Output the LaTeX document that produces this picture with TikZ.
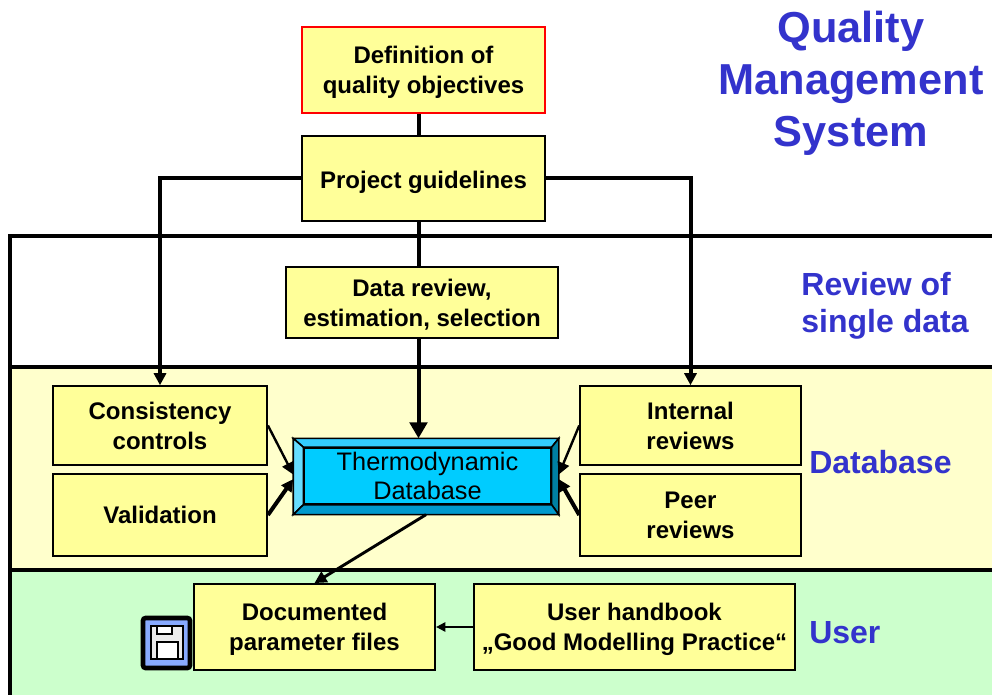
\documentclass[tikz,border=0pt]{standalone}
\usepackage{fontspec}
\setmainfont{Liberation Sans}
\usetikzlibrary{arrows.meta}
\definecolor{boxyellow}{HTML}{FFFF99}
\definecolor{bandyellow}{HTML}{FFFFCC}
\definecolor{bandgreen}{HTML}{CCFFCC}
\definecolor{titleblue}{HTML}{3333CC}
\definecolor{dbblue}{HTML}{00CCFF}
\definecolor{dbtop}{HTML}{33CCFF}
\definecolor{dbleft}{HTML}{66DDFF}
\definecolor{dbright}{HTML}{007FA3}
\definecolor{dbbottom}{HTML}{0099CC}
\definecolor{diskblue}{HTML}{88AAFF}
\newcommand{\lowtext}[2]{\begin{tabular}{@{}c@{}}\rule{0pt}{#1}#2\end{tabular}}
\tikzset{
    box/.style={draw=black, line width=1.4pt, fill=boxyellow, align=center, inner sep=0pt,
        font=\fontsize{18}{22.5}\selectfont\bfseries},
    heading/.style={text=titleblue, font=\fontsize{24}{28}\selectfont\bfseries, inner sep=0pt, align=left},
    link/.style={line width=3pt},
    bigarrow/.style={line width=3pt, -{Triangle[length=12pt,width=13pt]}},
    sidearrow/.style={line width=2.2pt, -{Triangle[length=9pt,width=9pt]}},
    thinarrow/.style={line width=1.8pt, -{Triangle[length=9pt,width=9pt]}},
    bevel/.style={draw=black, line width=1.2pt}
}
\begin{document}
\begin{tikzpicture}[x=0.75pt, y=-0.75pt]
    \useasboundingbox (0,0) rectangle (992,695);
    % bands
    \fill[bandyellow] (10,367) rectangle (992,570);
    \fill[bandgreen] (10,570) rectangle (992,695);
    \draw[line width=3pt] (992,236) -- (10,236) -- (10,695);
    \draw[line width=3pt] (10,367) -- (992,367);
    \draw[line width=3pt] (10,570) -- (992,570);
    % boxes
    \node[box, draw=red, minimum width=182pt, minimum height=64.5pt] (objectives) at (423.5,70) {\lowtext{20.25pt}{Definition of\\quality objectives}};
    \node[box, minimum width=182pt, minimum height=64pt] (guidelines) at (423.5,178.5) {\lowtext{21.75pt}{Project guidelines}};
    \node[box, minimum width=204pt, minimum height=53pt] (selection) at (422,302.5) {\lowtext{20.25pt}{Data review,\\estimation, selection}};
    \node[box, minimum width=160.5pt, minimum height=59pt] (consistency) at (160,425.5) {Consistency\\controls};
    \node[box, minimum width=160.5pt, minimum height=61.5pt] (validation) at (160,515) {Validation};
    \node[box, minimum width=165.5pt, minimum height=59pt] (internal) at (690.5,425.5) {Internal\\reviews};
    \node[box, minimum width=165.5pt, minimum height=61.5pt] (peer) at (690.5,515) {Peer\\reviews};
    \node[box, minimum width=181pt, minimum height=64.5pt] (parameter) at (314.5,627) {\lowtext{18.75pt}{Documented\\parameter files}};
    \node[box, minimum width=240.5pt, minimum height=64.5pt] (handbook) at (634.5,627) {\lowtext{18.75pt}{User handbook\\„Good Modelling Practice“}};
    % database with bevelled edge
    \node[draw=black, line width=1.2pt, fill=dbblue, minimum width=198pt, minimum height=56pt, inner sep=0pt] (db) at (426,476.5) {};
    \node[draw=black, line width=1.2pt, fill=dbblue, minimum width=185pt, minimum height=42pt, inner sep=0pt, align=center,
        font=\fontsize{19}{22}\selectfont] (dbinner) at (427.5,476) {Thermodynamic\\Database};
    \draw[bevel, fill=dbtop] (db.north west) -- (db.north east) -- (dbinner.north east) -- (dbinner.north west) -- cycle;
    \draw[bevel, fill=dbleft] (db.north west) -- (dbinner.north west) -- (dbinner.south west) -- (db.south west) -- cycle;
    \draw[bevel, fill=dbright] (db.north east) -- (dbinner.north east) -- (dbinner.south east) -- (db.south east) -- cycle;
    \draw[bevel, fill=dbbottom] (db.south west) -- (dbinner.south west) -- (dbinner.south east) -- (db.south east) -- cycle;
    % connectors
    \coordinate (spine) at (418.5,0);
    \draw[link] (spine |- objectives.south) -- (spine |- guidelines.north);
    \draw[link] (spine |- guidelines.south) -- (spine |- selection.north);
    \draw[bigarrow] (spine |- selection.south) -- (spine |- db.north);
    \draw[sidearrow, line width=3pt] (guidelines) -| (consistency);
    \draw[sidearrow, line width=3pt] (guidelines) -| (internal);
    \draw[thinarrow] (consistency.east) -- ([yshift=1.5pt]db.west);
    \draw[sidearrow, line width=3pt] (validation.east) -- ([yshift=-2pt]db.west);
    \draw[thinarrow] (internal.west) -- ([yshift=1.5pt]db.east);
    \draw[sidearrow, line width=3pt] (peer.west) -- ([yshift=-2pt]db.east);
    \draw[sidearrow] (db.south) -- (parameter.north);
    \draw[line width=1.5pt, -{Triangle[length=7pt,width=7pt]}] (handbook) -- (parameter);
    % disk icon
    \draw[line width=3.5pt, rounded corners=2pt, fill=diskblue] (143,618) rectangle (190,668);
    \draw[line width=1.4pt, fill=black!8] (151,626) rectangle (183,659);
    \draw[line width=1.4pt, fill=white] (157,626) rectangle (172,634);
    \draw[line width=1.4pt, fill=white] (157,642) rectangle (178,659);
    % headings
    \node[text=titleblue, font=\fontsize{32.5}{39}\selectfont\bfseries, inner sep=0pt, align=center] (title) at (851,83) {Quality\\Management\\System};
    \node[heading] (singledata) at (885,306) {Review of\\single data};
    \node[heading, anchor=west] (database) at (809,462) {Database};
    \node[heading, anchor=west] (user) at (809,633) {User};
\end{tikzpicture}
\end{document}
